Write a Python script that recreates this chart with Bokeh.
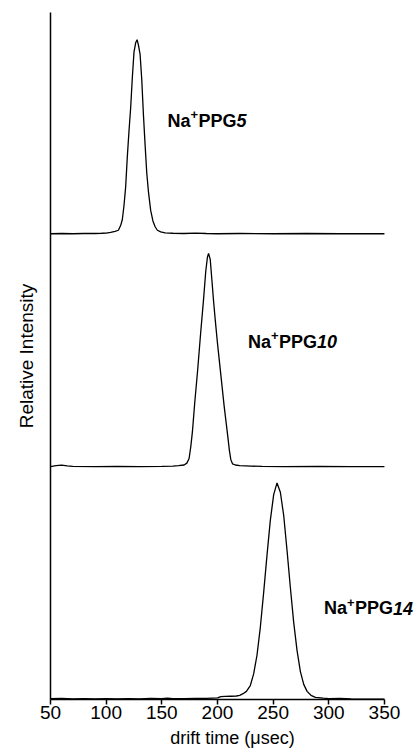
from bokeh.plotting import figure
from bokeh.models import Range1d, FixedTicker, ColumnDataSource
from bokeh.core.properties import value
from bokeh.embed import file_html
from bokeh.resources import INLINE

# Drift-time arrival distributions of sodiated polypropylene glycol oligomers
# (relative intensity, each trace measured from its own baseline)

# Na+PPG5
t5 = [50, 60, 70, 80, 90, 96, 100, 104, 108, 111, 113, 114.5, 116, 117.5, 119,
      120.5, 122, 123.5, 125, 126.5, 127.8, 129, 130.5, 132, 133.5, 135, 136.5,
      138, 140, 142, 144, 146, 149, 153, 160, 170, 180, 190, 200, 220, 250, 280,
      310, 350]
i5 = [0.000, 0.001, 0.000, 0.001, 0.001, 0.002, 0.003, 0.006, 0.010, 0.015,
      0.035, 0.060, 0.120, 0.200, 0.330, 0.440, 0.540, 0.670, 0.780, 0.820,
      0.833, 0.810, 0.770, 0.660, 0.510, 0.380, 0.260, 0.180, 0.100, 0.055,
      0.030, 0.015, 0.008, 0.004, 0.002, 0.001, 0.003, 0.001, 0.000, 0.001,
      0.000, 0.001, 0.000, 0.000]

# Na+PPG10
t10 = [50, 55, 60, 65, 70, 90, 110, 130, 150, 160, 165, 170, 172.5, 174.5, 176,
       177.5, 179.5, 182.3, 185, 187.4, 189.5, 191, 192, 193.5, 195, 196.5, 198,
       200, 202, 204, 206, 208, 209.5, 210.7, 212, 213.5, 216, 220, 225, 230,
       240, 260, 290, 320, 350]
i10 = [0.000, 0.004, 0.006, 0.003, 0.001, 0.000, 0.001, 0.000, 0.001, 0.002,
       0.004, 0.007, 0.015, 0.035, 0.085, 0.150, 0.270, 0.420, 0.580, 0.713,
       0.840, 0.900, 0.915, 0.890, 0.800, 0.710, 0.630, 0.530, 0.440, 0.350,
       0.260, 0.180, 0.120, 0.070, 0.030, 0.012, 0.007, 0.004, 0.003, 0.002,
       0.001, 0.000, 0.001, 0.000, 0.000]

# Na+PPG14
t14 = [50, 60, 70, 80, 90, 100, 110, 120, 130, 140, 150, 155, 160, 170, 180, 190,
       200, 203, 207, 212, 217, 220, 223, 226, 229.5, 232.5, 235.5, 238.5, 241.5,
       244.5, 247.5, 250.5, 253.5, 256.5, 259.5, 262.5, 265.5, 268.5, 271.5,
       274.5, 277.5, 280.5, 284, 288, 295, 300, 310, 320, 330, 340, 350]
i14 = [0.004, 0.005, 0.003, 0.004, 0.003, 0.004, 0.003, 0.004, 0.003, 0.005,
       0.004, 0.006, 0.004, 0.004, 0.005, 0.005, 0.007, 0.012, 0.013, 0.014,
       0.015, 0.018, 0.025, 0.035, 0.060, 0.110, 0.190, 0.310, 0.460, 0.620,
       0.770, 0.880, 0.930, 0.890, 0.790, 0.640, 0.480, 0.330, 0.210, 0.120,
       0.065, 0.035, 0.018, 0.009, 0.006, 0.004, 0.005, 0.003, 0.002, 0.002,
       0.002]

oligomer_sizes = [5, 10, 14]
stack_offsets = [2, 1, 0]
x_ticks = [50, 100, 150, 200, 250, 300, 350]

traces = [(t5, i5), (t10, i10), (t14, i14)]

p = figure(width=414, height=753, output_backend="svg", toolbar_location=None,
           x_range=Range1d(50, 377), y_range=Range1d(0, 2.95),
           min_border_left=50, min_border_right=0, min_border_top=12,
           min_border_bottom=54)
p.outline_line_color = None
p.xgrid.visible = False
p.ygrid.visible = False
p.background_fill_color = "white"

for (t, inten), off in zip(traces, stack_offsets):
    p.line(t, [v + off for v in inten], line_color="black", line_width=1.3)

# stacked-trace labels: Na(+)PPG n, with the oligomer size in italics
lab_x = [155.1, 227.4, 295.6]
lab_y = [2.486, 1.537, 0.391]
src = ColumnDataSource(dict(x=lab_x, y=lab_y,
                            na=["Na"] * 3, plus=["+"] * 3, ppg=["PPG"] * 3,
                            n=[str(n) for n in oligomer_sizes]))
font = value("Liberation Sans")
common = dict(source=src, text_font=font, text_color="black",
              text_align="left", text_baseline="alphabetic")
p.text(x="x", y="y", text="na", text_font_size="18px",
       text_font_style="bold", **common)
p.text(x="x", y="y", text="plus", text_font_size="13px",
       text_font_style="bold", x_offset=23, y_offset=-6, **common)
p.text(x="x", y="y", text="ppg", text_font_size="18px",
       text_font_style="bold", x_offset=31, **common)
p.text(x="x", y="y", text="n", text_font_size="18px",
       text_font_style="bold italic", x_offset=69, **common)

xa = p.xaxis[0]
xa.bounds = (50, 350)
xa.ticker = FixedTicker(ticks=x_ticks)
xa.minor_tick_line_color = None
xa.major_tick_in = 0
xa.major_tick_out = 5
xa.major_tick_line_width = 1.5
xa.axis_line_width = 1.5
xa.axis_line_color = "black"
xa.major_label_text_font = "Liberation Sans"
xa.major_label_text_font_size = "19px"
xa.major_label_text_color = "black"
xa.major_label_standoff = 1
xa.axis_label = "drift time (\u03bcsec)"
xa.axis_label_text_font = "Liberation Sans"
xa.axis_label_text_font_size = "18px"
xa.axis_label_text_font_style = "normal"
xa.axis_label_text_color = "black"
xa.axis_label_standoff = 6

ya = p.yaxis[0]
ya.ticker = FixedTicker(ticks=[])
ya.minor_tick_line_color = None
ya.major_tick_line_color = None
ya.axis_line_width = 1.5
ya.axis_line_color = "black"
ya.axis_label = "Relative Intensity"
ya.axis_label_text_font = "Liberation Sans"
ya.axis_label_text_font_size = "19px"
ya.axis_label_text_font_style = "normal"
ya.axis_label_text_color = "black"
ya.axis_label_standoff = 14

open("out.html", "w").write(file_html(p, INLINE))
